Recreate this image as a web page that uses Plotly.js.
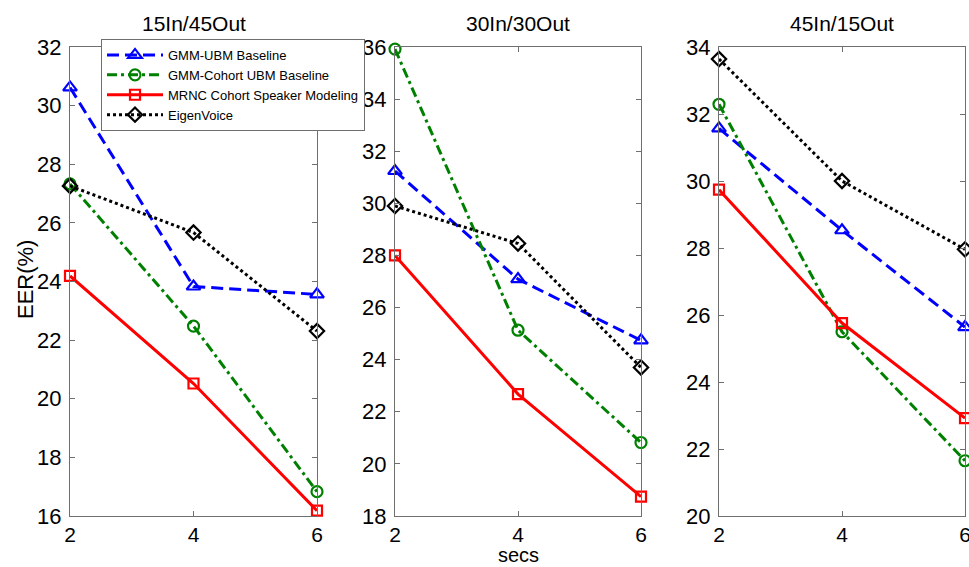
<!DOCTYPE html>
<html>
<head>
<meta charset="utf-8">
<script src="https://cdn.plot.ly/plotly-3.0.1.min.js"></script>
<style>html,body{margin:0;padding:0;background:#fff;}#chart{width:969px;height:567px;}</style>
</head>
<body>
<div id="chart"></div>
<script>
// ---- data ----
const secs = [2, 4, 6];
const panelTitles = ["15In/45Out", "30In/30Out", "45In/15Out"];
const seriesNames = ["GMM-UBM Baseline", "GMM-Cohort UBM Baseline", "MRNC Cohort Speaker Modeling", "EigenVoice"];

const p1_gmmubm = [30.62, 23.83, 23.56];
const p1_cohort = [27.33, 22.48, 16.83];
const p1_mrnc   = [24.19, 20.52, 16.18];
const p1_eigen  = [27.26, 25.67, 22.31];

const p2_gmmubm = [31.24, 27.09, 24.74];
const p2_cohort = [35.92, 25.13, 20.82];
const p2_mrnc   = [28.00, 22.68, 18.74];
const p2_eigen  = [29.90, 28.46, 23.70];

const p3_gmmubm = [31.57, 28.53, 25.64];
const p3_cohort = [32.29, 25.50, 21.65];
const p3_mrnc   = [29.74, 25.76, 22.92];
const p3_eigen  = [33.64, 30.00, 27.96];

const yRanges = [[16, 32], [18, 36], [20, 34]];

// ---- styles ----
const styles = [
  {color: "#0000ff", dash: "12px,6px", symbol: "triangle-up-open", size: 12},
  {color: "#008000", dash: "10px,4px,3px,4px", symbol: "circle-open", size: 11},
  {color: "#ff0000", dash: "solid", symbol: "square-open", size: 10},
  {color: "#000000", dash: "3px,3px", symbol: "diamond-open", size: 11}
];

const panels = [
  [p1_gmmubm, p1_cohort, p1_mrnc, p1_eigen],
  [p2_gmmubm, p2_cohort, p2_mrnc, p2_eigen],
  [p3_gmmubm, p3_cohort, p3_mrnc, p3_eigen]
];

const traces = [];
panels.forEach((series, pi) => {
  series.forEach((vals, si) => {
    const s = styles[si];
    traces.push({
      type: "scatter", mode: "lines+markers",
      x: secs, y: vals,
      name: seriesNames[si],
      legendgroup: seriesNames[si],
      showlegend: pi === 0,
      xaxis: pi === 0 ? "x" : "x" + (pi + 1),
      yaxis: pi === 0 ? "y" : "y" + (pi + 1),
      cliponaxis: false,
      line: {color: s.color, width: 3, dash: s.dash},
      marker: {symbol: s.symbol, size: s.size, color: s.color, line: {color: s.color, width: 2.2}}
    });
  });
});

const W = 969, H = 567;
const font = "Liberation Sans, Arial, Helvetica, sans-serif";
const axisColor = "#6f6f6f";
const xDomPx = [[70, 317], [395, 641], [719, 965]];
const yDom = [(H - 516) / H, (H - 47) / H];

const layout = {
  width: W, height: H,
  margin: {l: 0, r: 0, t: 0, b: 0},
  paper_bgcolor: "#ffffff", plot_bgcolor: "#ffffff",
  font: {family: font, color: "#000000"},
  showlegend: true,
  legend: {
    x: 101 / W, y: (H - 39) / H, xanchor: "left", yanchor: "top",
    bgcolor: "#ffffff", bordercolor: axisColor, borderwidth: 1,
    font: {family: font, size: 13, color: "#000000"},
    itemwidth: 56, tracegroupgap: 0
  },
  annotations: []
};

xDomPx.forEach((d, i) => {
  const sfx = i === 0 ? "" : String(i + 1);
  layout["xaxis" + sfx] = {
    domain: [d[0] / W, d[1] / W], anchor: "y" + sfx,
    range: [2, 6], tickvals: secs, ticktext: secs.map(String),
    showgrid: false, zeroline: false,
    showline: true, linecolor: axisColor, linewidth: 1, mirror: "ticks",
    ticks: "inside", ticklen: 5, tickcolor: axisColor,
    ticklabeloverflow: "allow",
    tickfont: {family: font, size: 21, color: "#000000"}
  };
  layout["yaxis" + sfx] = {
    domain: yDom, anchor: "x" + sfx,
    range: yRanges[i], dtick: 2, tick0: 0,
    showgrid: false, zeroline: false,
    showline: true, linecolor: axisColor, linewidth: 1, mirror: "ticks",
    ticks: "inside", ticklen: 5, tickcolor: axisColor,
    ticklabeloverflow: "allow",
    tickfont: {family: font, size: 22, color: "#000000"},
    ticklabelstandoff: 3
  };
  layout.annotations.push({
    text: panelTitles[i], xref: "paper", yref: "paper",
    x: (d[0] + d[1]) / 2 / W, y: (H - 23) / H,
    xanchor: "center", yanchor: "middle", showarrow: false,
    font: {family: font, size: 21, color: "#000000"}
  });
});

layout.annotations.push({
  text: "EER(%)", xref: "paper", yref: "paper",
  x: 25 / W, y: (H - 280) / H, textangle: -90,
  xanchor: "center", yanchor: "middle", showarrow: false,
  font: {family: font, size: 22, color: "#000000"}
});
layout.annotations.push({
  text: "secs", xref: "paper", yref: "paper",
  x: 518 / W, y: 0, borderpad: 0,
  xanchor: "center", yanchor: "bottom", showarrow: false,
  font: {family: font, size: 20, color: "#000000"}
});

Plotly.newPlot("chart", traces, layout, {displayModeBar: false, staticPlot: true});
</script>
</body>
</html>
